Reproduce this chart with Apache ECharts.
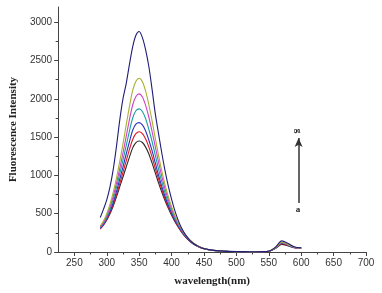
<!DOCTYPE html>
<html>
<head>
<meta charset="utf-8">
<script src="https://cdn.jsdelivr.net/npm/echarts@6/dist/echarts.min.js"></script>
<style>
  html, body { margin: 0; padding: 0; background: #fff; }
  #chart { width: 382px; height: 293px; }
</style>
</head>
<body>
<div id="chart"></div>
<script>
// wavelengths (nm)
var wavelength = [290, 295, 300, 305, 310, 315, 320, 325, 330, 335, 340, 345, 350, 355, 360, 365, 370, 375, 380, 385, 390, 395, 400, 405, 410, 415, 420, 425, 430, 435, 440, 445, 450, 460, 470, 480, 490, 500, 510, 520, 530, 540, 550, 560, 570, 580, 590, 600];

// a .. g (lowest to highest)
var curveA = [320, 360, 420, 500, 600, 720, 850, 980, 1110, 1240, 1360, 1430, 1450, 1430, 1370, 1280, 1160, 1030, 900, 780, 670, 570, 480, 400, 330, 265, 210, 165, 128, 98, 74, 56, 42, 25, 16, 10, 7, 5, 4, 3, 3, 4, 8, 45, 100, 80, 55, 50];
var curveB = [300, 350, 420, 510, 620, 750, 890, 1040, 1190, 1340, 1470, 1545, 1570, 1545, 1475, 1370, 1240, 1090, 950, 815, 695, 590, 495, 410, 335, 270, 215, 168, 130, 100, 76, 57, 43, 26, 16, 10, 7, 5, 4, 3, 3, 4, 8, 48, 110, 85, 55, 50];
var curveC = [310, 360, 435, 530, 650, 790, 950, 1110, 1280, 1440, 1590, 1670, 1690, 1660, 1580, 1460, 1320, 1160, 1000, 855, 725, 610, 510, 420, 345, 278, 220, 172, 133, 102, 78, 58, 44, 26, 17, 11, 7, 5, 4, 3, 3, 4, 9, 50, 115, 88, 57, 50];
var curveD = [320, 375, 455, 560, 690, 845, 1020, 1200, 1390, 1580, 1750, 1845, 1870, 1835, 1740, 1600, 1440, 1260, 1080, 915, 770, 645, 535, 440, 358, 288, 228, 178, 137, 104, 79, 59, 44, 27, 17, 11, 7, 5, 4, 3, 3, 4, 9, 52, 120, 92, 58, 52];
var curveE = [330, 390, 475, 590, 730, 900, 1090, 1290, 1510, 1730, 1920, 2030, 2065, 2025, 1915, 1760, 1570, 1370, 1170, 985, 825, 685, 565, 462, 375, 300, 237, 184, 141, 107, 81, 60, 45, 27, 17, 11, 7, 5, 4, 3, 3, 4, 9, 54, 125, 95, 60, 52];
var curveF = [340, 405, 500, 625, 780, 965, 1180, 1410, 1660, 1900, 2110, 2230, 2270, 2225, 2100, 1920, 1710, 1480, 1260, 1055, 875, 722, 592, 482, 390, 310, 244, 189, 144, 109, 82, 61, 45, 27, 17, 11, 7, 5, 4, 3, 3, 4, 9, 55, 128, 98, 62, 53];
var curveG = [450, 560, 680, 850, 1080, 1380, 1720, 2000, 2200, 2450, 2680, 2830, 2880, 2800, 2640, 2420, 2120, 1800, 1540, 1290, 1060, 860, 690, 540, 420, 320, 245, 185, 140, 105, 80, 60, 45, 28, 18, 12, 8, 6, 5, 4, 4, 5, 10, 60, 145, 110, 65, 55];

var curves = [curveA, curveB, curveC, curveD, curveE, curveF, curveG];
var curveNames = ['a', 'b', 'c', 'd', 'e', 'f', 'g'];
var colors = ['#2a2a2a', '#e01820', '#3030c0', '#18a0a0', '#d040c8', '#a8b030', '#1e1e78'];

// axis ticks
var xTicks = [250, 300, 350, 400, 450, 500, 550, 600, 650, 700];
var xMinorTicks = [275, 325, 375, 425, 475, 525, 575, 625, 675];
var yTicks = [0, 500, 1000, 1500, 2000, 2500, 3000];
var yMinorTicks = [250, 750, 1250, 1750, 2250, 2750];

// arrow a -> g
var arrowX = 596;
var arrowFrom = 640;
var arrowTo = 1490;

function pairs(ys) {
    return wavelength.map(function (x, i) { return [x, ys[i]]; });
}

var myChart = echarts.init(document.getElementById('chart'));

var series = curves.map(function (ys, i) {
    return {
        name: curveNames[i],
        type: 'line',
        data: pairs(ys),
        showSymbol: false,
        smooth: 0.3,
        lineStyle: { width: 1.1, color: colors[i] },
        itemStyle: { color: colors[i] },
        z: 2 + i
    };
});
series[0].markLine = {
    silent: true,
    symbol: ['none', 'arrow'],
    symbolSize: [6, 9],
    lineStyle: { color: '#333', width: 1.5, type: 'solid' },
    label: { show: false },
    data: [[{ coord: [arrowX, arrowFrom] }, { coord: [arrowX, arrowTo] }]]
};

var labelFont = 'Liberation Sans, Arial, sans-serif';
var titleFont = 'Liberation Serif, Times New Roman, serif';
var axisColor = '#444';

myChart.setOption({
    animation: false,
    grid: { left: 57, right: 16, top: 7, bottom: 41 },
    xAxis: [{
        type: 'value',
        min: 225,
        max: 700,
        name: 'wavelength(nm)',
        nameLocation: 'middle',
        nameGap: 24,
        nameTextStyle: { fontFamily: titleFont, fontWeight: 'bold', fontSize: 11, color: '#222' },
        axisLine: { lineStyle: { color: axisColor, width: 1 } },
        axisTick: { show: true, length: 4, customValues: xTicks, lineStyle: { color: axisColor } },
        axisLabel: { fontFamily: labelFont, fontSize: 10, color: '#333', margin: 6, customValues: xTicks },
        splitLine: { show: false }
    }, {
        type: 'value',
        min: 225,
        max: 700,
        position: 'bottom',
        axisLine: { show: false },
        axisTick: { show: true, length: 2.5, customValues: xMinorTicks, lineStyle: { color: axisColor } },
        axisLabel: { show: false },
        splitLine: { show: false }
    }],
    yAxis: [{
        type: 'value',
        min: 0,
        max: 3200,
        name: 'Fluorescence Intensity',
        nameLocation: 'middle',
        nameGap: 38,
        nameTextStyle: { fontFamily: titleFont, fontWeight: 'bold', fontSize: 11, color: '#222' },
        axisLine: { show: true, lineStyle: { color: axisColor, width: 1 } },
        axisTick: { show: true, length: 4, customValues: yTicks, lineStyle: { color: axisColor } },
        axisLabel: {
            fontFamily: labelFont, fontSize: 10, color: '#333', margin: 6, customValues: yTicks,
            formatter: function (v) { return String(v); }
        },
        splitLine: { show: false }
    }, {
        type: 'value',
        min: 0,
        max: 3200,
        position: 'left',
        axisLine: { show: false },
        axisTick: { show: true, length: 2.5, customValues: yMinorTicks, lineStyle: { color: axisColor } },
        axisLabel: { show: false },
        splitLine: { show: false }
    }],
    graphic: [
        {
            type: 'text', x: 298, y: 131, rotation: -Math.PI / 2,
            style: { text: 'g', font: 'bold 9px ' + titleFont, fill: '#222', align: 'center', verticalAlign: 'middle' }
        },
        {
            type: 'text', x: 298, y: 210,
            style: { text: 'a', font: 'bold 9px ' + titleFont, fill: '#222', align: 'center', verticalAlign: 'middle' }
        }
    ],
    series: series
});
</script>
</body>
</html>
